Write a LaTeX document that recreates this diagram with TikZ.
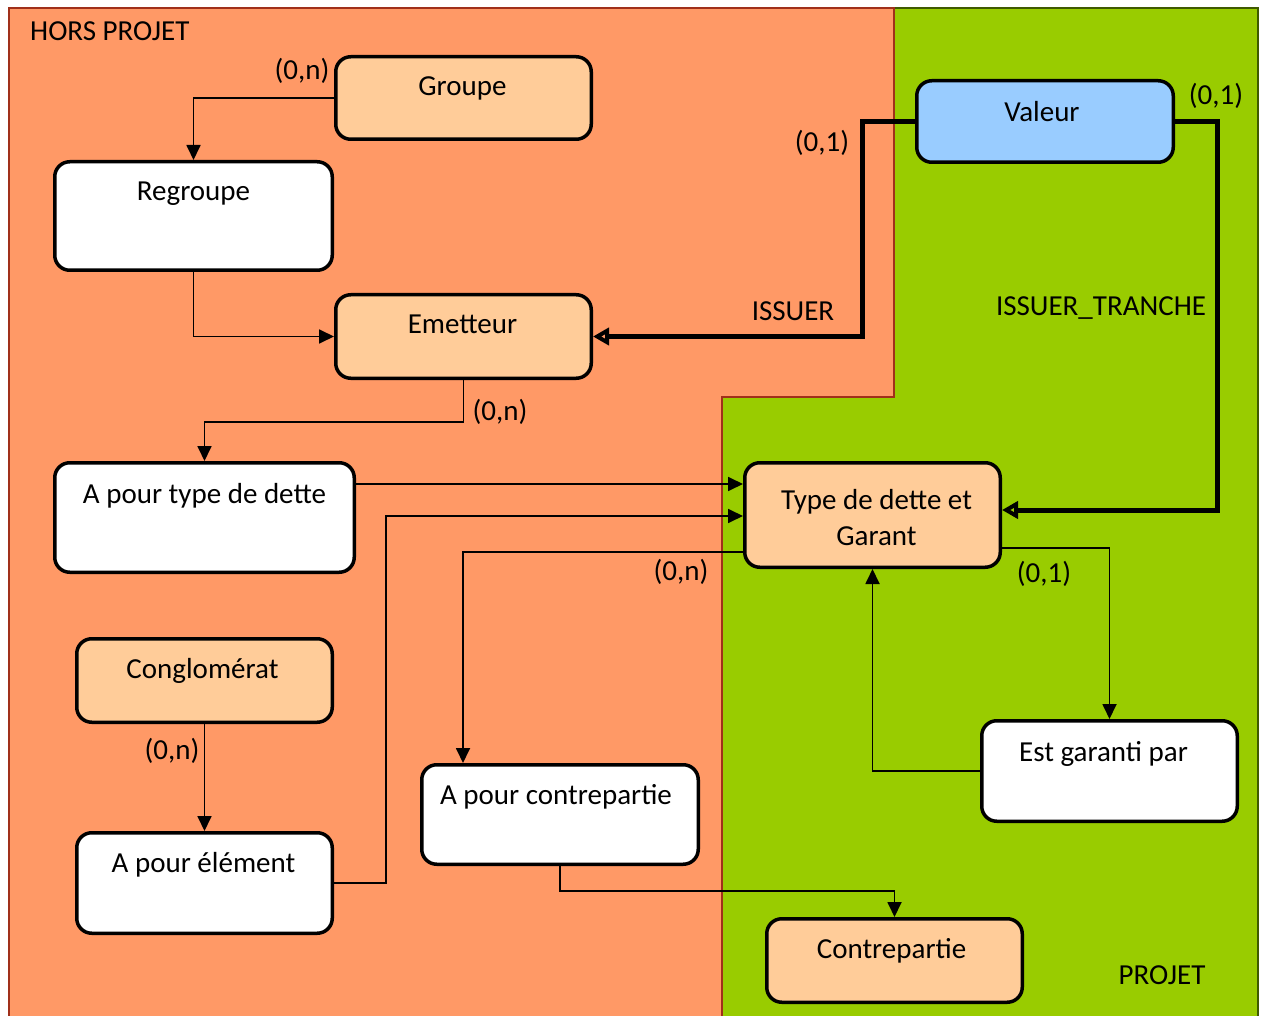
\documentclass[tikz,border=0pt]{standalone}
\usepackage{fontspec}
\setmainfont{Carlito}
\usetikzlibrary{arrows.meta,calc}
\definecolor{zorange}{HTML}{FF9966}
\definecolor{zpeach}{HTML}{FFCC99}
\definecolor{zblue}{HTML}{99CCFF}
\definecolor{zgreen}{HTML}{99CC00}
\definecolor{zred}{HTML}{A0301A}
\definecolor{zdkgreen}{HTML}{3F5A00}
\begin{document}
\begin{tikzpicture}[x=1pt,y=-1pt,
  every node/.style={font=\fontsize{29}{36}\selectfont},
  ent/.style={draw=black, line width=3.5pt, rounded corners=15pt, inner sep=0pt},
  peachbox/.style={ent, fill=zpeach},
  plainbox/.style={ent, fill=white},
  bluebox/.style={ent, fill=zblue},
  lbl/.style={anchor=base, inner sep=0pt},
  free/.style={inner sep=0pt},
  arr/.style={line width=1.8pt, -{Triangle[length=15pt,width=14pt]}},
  thk/.style={line width=5pt, line join=miter, -{Triangle[open,length=16pt,width=17pt]}}
]
\useasboundingbox (0,0) rectangle (1264,1016);
\fill[white] (0,0) rectangle (1264,1016);
% regions
\filldraw[fill=zgreen, draw=zdkgreen, line width=1.2pt] (722,1025) |- (1258,8) -- (1258,1025);
\filldraw[fill=zorange, draw=zred, line width=1.2pt] (9,1025) |- (894,8) |- (722,397) -- (722,1025) -- cycle;

% entities
\node[peachbox, minimum width=255.5pt, minimum height=82.5pt] (groupe) at (463.5,98) {};
\node[plainbox, minimum width=277.5pt, minimum height=108.5pt] (regroupe) at (193.5,216) {};
\node[peachbox, minimum width=255.5pt, minimum height=83.5pt] (emetteur) at (463.5,336.5) {};
\node[bluebox, minimum width=256.5pt, minimum height=81.5pt] (valeur) at (1045,121.5) {};
\node[plainbox, minimum width=299.5pt, minimum height=109.5pt] (apt) at (204.5,517.5) {};
\node[peachbox, minimum width=255.5pt, minimum height=104.5pt] (tdg) at (872.5,515) {};
\node[peachbox, minimum width=255.5pt, minimum height=83.5pt] (cong) at (204.5,680.5) {};
\node[plainbox, minimum width=255.5pt, minimum height=100.5pt] (ape) at (204.5,883) {};
\node[plainbox, minimum width=276.5pt, minimum height=99.5pt] (apc) at (560,814.5) {};
\node[plainbox, minimum width=255.5pt, minimum height=100.5pt] (egp) at (1109.5,771) {};
\node[peachbox, minimum width=255.5pt, minimum height=83.5pt] (contre) at (894.5,960.5) {};

% entity texts
\node[lbl] (groupe-t) at ([yshift=-41pt,xshift=-1pt]groupe.north) {Groupe};
\node[lbl] (regroupe-t) at ([yshift=-41pt]regroupe.north) {Regroupe};
\node[lbl] (emetteur-t) at ([yshift=-41pt,xshift=-1pt]emetteur.north) {Emetteur};
\node[lbl] (valeur-t) at ([yshift=-43pt,xshift=-3pt]valeur.north) {Valeur};
\node[lbl] (apt-t) at ([yshift=-42pt]apt.north) {A pour type de dette};
\node[free, align=center] (tdg-t) at ([yshift=-3pt,xshift=4pt]tdg.center) {Type de dette et\\Garant};
\node[lbl] (cong-t) at ([yshift=-41pt,xshift=-2pt]cong.north) {Conglomérat};
\node[lbl] (ape-t) at ([yshift=-41pt,xshift=-1pt]ape.north) {A pour élément};
\node[lbl] (apc-t) at ([yshift=-41pt,xshift=-4pt]apc.north) {A pour contrepartie};
\node[lbl] (egp-t) at ([yshift=-42pt,xshift=-6pt]egp.north) {Est garanti par};
\node[lbl] (contre-t) at ([yshift=-41pt,xshift=-3pt]contre.north) {Contrepartie};

% free labels
\node[free, anchor=west] (hors) at (30,31) {HORS PROJET};
\node[free] (projet) at (1162,975) {PROJET};
\node[free] (c1) at (302,71) {(0,n)};
\node[free] (c2) at (822,143) {(0,1)};
\node[free] (c3) at (1216,96) {(0,1)};
\node[free] (issuer) at (793,311) {ISSUER};
\node[free] (issuert) at (1101,308) {ISSUER\_TRANCHE};
\node[free] (c4) at (500,412) {(0,n)};
\node[free] (c5) at (681,572) {(0,n)};
\node[free] (c6) at (1044,574) {(0,1)};
\node[free] (c7) at (172,751) {(0,n)};

% thin connectors
\draw[arr] (groupe.west) -| (regroupe.north);
\draw[arr] (regroupe.south) |- (emetteur.west);
\draw[arr] (emetteur.south) -- ++(0,42) -| (apt.north);
\draw[arr] (apt.east |- 0,484) -- (tdg.west |- 0,484);
\draw[arr] (ape.east) -- (386,883) |- (tdg.west |- 0,516);
\draw[arr] (tdg.west |- 0,552) -| (apc.north -| 463,0);
\draw[arr] (tdg.east |- 0,548) -| (egp.north);
\draw[arr] (egp.west) -| (tdg.south);
\draw[arr] (apc.south) -- ++(0,25) -| (contre.north);
\draw[arr] (cong.south) -- (ape.north);

% thick connectors
\draw[thk] (valeur.west) -- (862,121.5) |- (emetteur.east);
\draw[thk] (valeur.east) -- (1217,121.5) |- (tdg.east |- 0,510);
\end{tikzpicture}
\end{document}
